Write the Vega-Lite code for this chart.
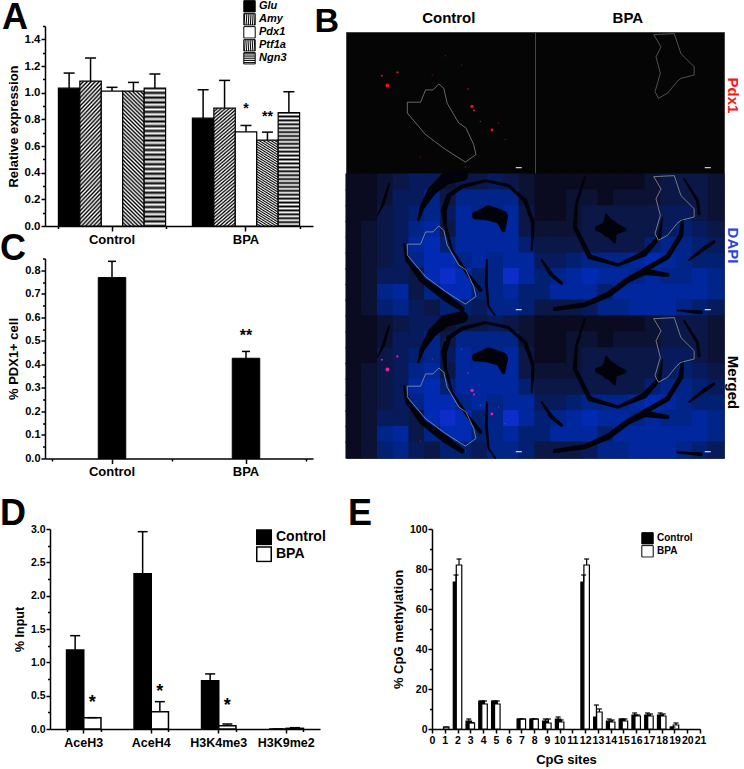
{"$schema":"https://vega.github.io/schema/vega-lite/v6.json","background":"white","padding":{"left":0,"top":0,"right":0,"bottom":0},"autosize":{"type":"pad"},
"params":[
{"name":"stripes","expr":"[{offset:0,color:'#000'},{offset:.0125,color:'#fff'},{offset:.025,color:'#000'},{offset:.0375,color:'#fff'},{offset:.05,color:'#000'},{offset:.0625,color:'#fff'},{offset:.075,color:'#000'},{offset:.0875,color:'#fff'},{offset:.1,color:'#000'},{offset:.1125,color:'#fff'},{offset:.125,color:'#000'},{offset:.1375,color:'#fff'},{offset:.15,color:'#000'},{offset:.1625,color:'#fff'},{offset:.175,color:'#000'},{offset:.1875,color:'#fff'},{offset:.2,color:'#000'},{offset:.2125,color:'#fff'},{offset:.225,color:'#000'},{offset:.2375,color:'#fff'},{offset:.25,color:'#000'},{offset:.2625,color:'#fff'},{offset:.275,color:'#000'},{offset:.2875,color:'#fff'},{offset:.3,color:'#000'},{offset:.3125,color:'#fff'},{offset:.325,color:'#000'},{offset:.3375,color:'#fff'},{offset:.35,color:'#000'},{offset:.3625,color:'#fff'},{offset:.375,color:'#000'},{offset:.3875,color:'#fff'},{offset:.4,color:'#000'},{offset:.4125,color:'#fff'},{offset:.425,color:'#000'},{offset:.4375,color:'#fff'},{offset:.45,color:'#000'},{offset:.4625,color:'#fff'},{offset:.475,color:'#000'},{offset:.4875,color:'#fff'},{offset:.5,color:'#000'},{offset:.5125,color:'#fff'},{offset:.525,color:'#000'},{offset:.5375,color:'#fff'},{offset:.55,color:'#000'},{offset:.5625,color:'#fff'},{offset:.575,color:'#000'},{offset:.5875,color:'#fff'},{offset:.6,color:'#000'},{offset:.6125,color:'#fff'},{offset:.625,color:'#000'},{offset:.6375,color:'#fff'},{offset:.65,color:'#000'},{offset:.6625,color:'#fff'},{offset:.675,color:'#000'},{offset:.6875,color:'#fff'},{offset:.7,color:'#000'},{offset:.7125,color:'#fff'},{offset:.725,color:'#000'},{offset:.7375,color:'#fff'},{offset:.75,color:'#000'},{offset:.7625,color:'#fff'},{offset:.775,color:'#000'},{offset:.7875,color:'#fff'},{offset:.8,color:'#000'},{offset:.8125,color:'#fff'},{offset:.825,color:'#000'},{offset:.8375,color:'#fff'},{offset:.85,color:'#000'},{offset:.8625,color:'#fff'},{offset:.875,color:'#000'},{offset:.8875,color:'#fff'},{offset:.9,color:'#000'},{offset:.9125,color:'#fff'},{offset:.925,color:'#000'},{offset:.9375,color:'#fff'},{offset:.95,color:'#000'},{offset:.9625,color:'#fff'},{offset:.975,color:'#000'},{offset:.9875,color:'#fff'},{offset:1,color:'#000'}]"},
{"name":"amy","expr":"{gradient:'linear',x1:0,y1:0,x2:.177,y2:1.13,stops:stripes}"},
{"name":"ptf","expr":"{gradient:'linear',x1:1,y1:0,x2:.823,y2:1.13,stops:stripes}"},
{"name":"ngn","expr":"{gradient:'linear',x1:0,y1:0,x2:0,y2:1.38,stops:stripes}"},
{"name":"lamy","expr":"{gradient:'linear',x1:0,y1:0,x2:6.67,y2:6.67,stops:stripes}"},
{"name":"lptf","expr":"{gradient:'linear',x1:1,y1:0,x2:-5.67,y2:6.67,stops:stripes}"},
{"name":"lngn","expr":"{gradient:'linear',x1:0,y1:0,x2:0,y2:13.3,stops:stripes}"}
],
"datasets":{
"a":[{"g":"Control","s":"Glu","v":1.034,"e":1.147},{"g":"Control","s":"Amy","v":1.087,"e":1.26},{"g":"Control","s":"Pdx1","v":1.012,"e":1.04},{"g":"Control","s":"Ptf1a","v":1.012,"e":1.077},{"g":"Control","s":"Ngn3","v":1.034,"e":1.14},{"g":"BPA","s":"Glu","v":0.809,"e":1.022},{"g":"BPA","s":"Amy","v":0.884,"e":1.092},{"g":"BPA","s":"Pdx1","v":0.706,"e":0.754},{"g":"BPA","s":"Ptf1a","v":0.644,"e":0.704},{"g":"BPA","s":"Ngn3","v":0.851,"e":1.007}],
"astar":[{"g":"BPA","s":"Pdx1","y":0.904,"t":"*"},{"g":"BPA","s":"Ptf1a","y":0.85,"t":"**"}],
"c":[{"g":"Control","v":0.769,"e":0.838},{"g":"BPA","v":0.426,"e":0.455}],
"cstar":[{"g":"BPA","y":0.54,"t":"**"}],
"d":[{"g":"AceH3","s":"Control","v":1.186,"e":1.4},{"g":"AceH3","s":"BPA","v":0.17,"e":0.17},{"g":"AceH4","s":"Control","v":2.33,"e":2.96},{"g":"AceH4","s":"BPA","v":0.26,"e":0.41},{"g":"H3K4me3","s":"Control","v":0.725,"e":0.826},{"g":"H3K4me3","s":"BPA","v":0.05,"e":0.075},{"g":"H3K9me2","s":"Control","v":0,"e":0},{"g":"H3K9me2","s":"BPA","v":0.01,"e":0.02}],
"dstar":[{"g":"AceH3","s":"BPA","y":0.465,"t":"*"},{"g":"AceH4","s":"BPA","y":0.635,"t":"*"},{"g":"H3K4me3","s":"BPA","y":0.415,"t":"*"}],
"e":[{"x":1,"s":"BPA","v":1,"e":1},{"x":2,"s":"Control","v":73.5,"e":77},{"x":2,"s":"BPA","v":82,"e":85},{"x":3,"s":"Control","v":4,"e":5},{"x":3,"s":"BPA","v":3,"e":3.2},{"x":4,"s":"Control","v":14,"e":14},{"x":4,"s":"BPA","v":12.5,"e":14},{"x":5,"s":"Control","v":14,"e":14},{"x":5,"s":"BPA","v":12.5,"e":14},{"x":7,"s":"Control","v":5,"e":5},{"x":7,"s":"BPA","v":5,"e":5},{"x":8,"s":"Control","v":5,"e":5},{"x":8,"s":"BPA","v":5,"e":5},{"x":9,"s":"Control","v":4,"e":5},{"x":9,"s":"BPA","v":3,"e":5},{"x":10,"s":"Control","v":5,"e":6},{"x":10,"s":"BPA","v":3.5,"e":4.5},{"x":12,"s":"Control","v":73.5,"e":77},{"x":12,"s":"BPA","v":82,"e":85},{"x":13,"s":"Control","v":6,"e":12},{"x":13,"s":"BPA","v":8.5,"e":10},{"x":14,"s":"Control","v":4,"e":5},{"x":14,"s":"BPA","v":3.5,"e":4.5},{"x":15,"s":"Control","v":5,"e":5},{"x":15,"s":"BPA","v":4,"e":5},{"x":16,"s":"Control","v":7,"e":8},{"x":16,"s":"BPA","v":6.5,"e":7},{"x":17,"s":"Control","v":7,"e":8},{"x":17,"s":"BPA","v":6.5,"e":7.5},{"x":18,"s":"Control","v":7,"e":8},{"x":18,"s":"BPA","v":6.5,"e":7.5},{"x":19,"s":"Control","v":1,"e":1},{"x":19,"s":"BPA","v":2,"e":3}],
"cellsC":[{"u":24,"v":24,"b":1},{"u":71,"v":24,"b":1},{"u":119,"v":24,"b":2},{"u":166,"v":24,"b":3},{"u":214,"v":24,"b":4},{"u":261,"v":24,"b":4},{"u":309,"v":24,"b":2},{"u":356,"v":24,"b":3},{"u":404,"v":24,"b":3},{"u":451,"v":24,"b":4},{"u":499,"v":24,"b":3},{"u":546,"v":24,"b":2},
{"u":24,"v":72,"b":1},{"u":71,"v":72,"b":1},{"u":119,"v":72,"b":2},{"u":166,"v":72,"b":4},{"u":214,"v":72,"b":4},{"u":261,"v":72,"b":6},{"u":309,"v":72,"b":3},{"u":356,"v":72,"b":6},{"u":404,"v":72,"b":6},{"u":451,"v":72,"b":6},{"u":499,"v":72,"b":6},{"u":546,"v":72,"b":2},
{"u":24,"v":120,"b":1},{"u":71,"v":120,"b":1},{"u":119,"v":120,"b":3},{"u":166,"v":120,"b":4},{"u":214,"v":120,"b":5},{"u":261,"v":120,"b":6},{"u":309,"v":120,"b":4},{"u":356,"v":120,"b":7},{"u":404,"v":120,"b":6},{"u":451,"v":120,"b":6},{"u":499,"v":120,"b":7},{"u":546,"v":120,"b":3},
{"u":24,"v":167,"b":1},{"u":71,"v":167,"b":2},{"u":119,"v":167,"b":3},{"u":166,"v":167,"b":4},{"u":214,"v":167,"b":6},{"u":261,"v":167,"b":7},{"u":309,"v":167,"b":3},{"u":356,"v":167,"b":7},{"u":404,"v":167,"b":7},{"u":451,"v":167,"b":7},{"u":499,"v":167,"b":7},{"u":546,"v":167,"b":3},
{"u":24,"v":215,"b":1},{"u":71,"v":215,"b":2},{"u":119,"v":215,"b":3},{"u":166,"v":215,"b":4},{"u":214,"v":215,"b":7},{"u":261,"v":215,"b":8},{"u":309,"v":215,"b":5},{"u":356,"v":215,"b":7},{"u":404,"v":215,"b":7},{"u":451,"v":215,"b":7},{"u":499,"v":215,"b":7},{"u":546,"v":215,"b":5},
{"u":24,"v":263,"b":1},{"u":71,"v":263,"b":2},{"u":119,"v":263,"b":3},{"u":166,"v":263,"b":4},{"u":214,"v":263,"b":6},{"u":261,"v":263,"b":8},{"u":309,"v":263,"b":8},{"u":356,"v":263,"b":6},{"u":404,"v":263,"b":7},{"u":451,"v":263,"b":6},{"u":499,"v":263,"b":7},{"u":546,"v":263,"b":7},
{"u":24,"v":310,"b":1},{"u":71,"v":310,"b":2},{"u":119,"v":310,"b":4},{"u":166,"v":310,"b":4},{"u":214,"v":310,"b":3},{"u":261,"v":310,"b":8},{"u":309,"v":310,"b":9},{"u":356,"v":310,"b":8},{"u":404,"v":310,"b":5},{"u":451,"v":310,"b":6},{"u":499,"v":310,"b":9},{"u":546,"v":310,"b":7},
{"u":24,"v":358,"b":1},{"u":71,"v":358,"b":2},{"u":119,"v":358,"b":6},{"u":166,"v":358,"b":7},{"u":214,"v":358,"b":3},{"u":261,"v":358,"b":6},{"u":309,"v":358,"b":8},{"u":356,"v":358,"b":8},{"u":404,"v":358,"b":5},{"u":451,"v":358,"b":6},{"u":499,"v":358,"b":7},{"u":546,"v":358,"b":5},
{"u":24,"v":405,"b":1},{"u":71,"v":405,"b":2},{"u":119,"v":405,"b":5},{"u":166,"v":405,"b":6},{"u":214,"v":405,"b":4},{"u":261,"v":405,"b":3},{"u":309,"v":405,"b":5},{"u":356,"v":405,"b":5},{"u":404,"v":405,"b":4},{"u":451,"v":405,"b":6},{"u":499,"v":405,"b":6},{"u":546,"v":405,"b":5}],
"cellsB":[{"u":24,"v":24,"b":1},{"u":71,"v":24,"b":1},{"u":119,"v":24,"b":1},{"u":166,"v":24,"b":1},{"u":214,"v":24,"b":1},{"u":261,"v":24,"b":1},{"u":309,"v":24,"b":1},{"u":356,"v":24,"b":2},{"u":404,"v":24,"b":3},{"u":451,"v":24,"b":3},{"u":499,"v":24,"b":3},{"u":546,"v":24,"b":2},
{"u":24,"v":72,"b":1},{"u":71,"v":72,"b":1},{"u":119,"v":72,"b":2},{"u":166,"v":72,"b":2},{"u":214,"v":72,"b":1},{"u":261,"v":72,"b":2},{"u":309,"v":72,"b":2},{"u":356,"v":72,"b":2},{"u":404,"v":72,"b":3},{"u":451,"v":72,"b":3},{"u":499,"v":72,"b":3},{"u":546,"v":72,"b":2},
{"u":24,"v":120,"b":1},{"u":71,"v":120,"b":1},{"u":119,"v":120,"b":2},{"u":166,"v":120,"b":3},{"u":214,"v":120,"b":3},{"u":261,"v":120,"b":3},{"u":309,"v":120,"b":3},{"u":356,"v":120,"b":3},{"u":404,"v":120,"b":4},{"u":451,"v":120,"b":4},{"u":499,"v":120,"b":3},{"u":546,"v":120,"b":2},
{"u":24,"v":167,"b":2},{"u":71,"v":167,"b":2},{"u":119,"v":167,"b":2},{"u":166,"v":167,"b":3},{"u":214,"v":167,"b":3},{"u":261,"v":167,"b":3},{"u":309,"v":167,"b":3},{"u":356,"v":167,"b":3},{"u":404,"v":167,"b":4},{"u":451,"v":167,"b":5},{"u":499,"v":167,"b":4},{"u":546,"v":167,"b":3},
{"u":24,"v":215,"b":3},{"u":71,"v":215,"b":3},{"u":119,"v":215,"b":3},{"u":166,"v":215,"b":3},{"u":214,"v":215,"b":3},{"u":261,"v":215,"b":3},{"u":309,"v":215,"b":3},{"u":356,"v":215,"b":5},{"u":404,"v":215,"b":6},{"u":451,"v":215,"b":6},{"u":499,"v":215,"b":5},{"u":546,"v":215,"b":4},
{"u":24,"v":263,"b":4},{"u":71,"v":263,"b":4},{"u":119,"v":263,"b":5},{"u":166,"v":263,"b":6},{"u":214,"v":263,"b":6},{"u":261,"v":263,"b":6},{"u":309,"v":263,"b":7},{"u":356,"v":263,"b":8},{"u":404,"v":263,"b":7},{"u":451,"v":263,"b":6},{"u":499,"v":263,"b":5},{"u":546,"v":263,"b":5},
{"u":24,"v":310,"b":5},{"u":71,"v":310,"b":6},{"u":119,"v":310,"b":7},{"u":166,"v":310,"b":8},{"u":214,"v":310,"b":7},{"u":261,"v":310,"b":7},{"u":309,"v":310,"b":6},{"u":356,"v":310,"b":7},{"u":404,"v":310,"b":6},{"u":451,"v":310,"b":6},{"u":499,"v":310,"b":7},{"u":546,"v":310,"b":6},
{"u":24,"v":358,"b":5},{"u":71,"v":358,"b":7},{"u":119,"v":358,"b":7},{"u":166,"v":358,"b":7},{"u":214,"v":358,"b":5},{"u":261,"v":358,"b":7},{"u":309,"v":358,"b":7},{"u":356,"v":358,"b":7},{"u":404,"v":358,"b":7},{"u":451,"v":358,"b":7},{"u":499,"v":358,"b":7},{"u":546,"v":358,"b":6},
{"u":24,"v":405,"b":3},{"u":71,"v":405,"b":3},{"u":119,"v":405,"b":3},{"u":166,"v":405,"b":4},{"u":214,"v":405,"b":6},{"u":261,"v":405,"b":6},{"u":309,"v":405,"b":7},{"u":356,"v":405,"b":7},{"u":404,"v":405,"b":7},{"u":451,"v":405,"b":6},{"u":499,"v":405,"b":5},{"u":546,"v":405,"b":4}],
"darkC":[{"id":1,"k":0,"u":350,"v":3,"w":12},{"id":1,"k":1,"u":300,"v":15,"w":12},{"id":1,"k":2,"u":260,"v":50,"w":9},{"id":1,"k":3,"u":230,"v":100,"w":5},{"id":1,"k":4,"u":218,"v":140,"w":2},
{"id":2,"k":0,"u":310,"v":65,"w":5},{"id":2,"k":1,"u":295,"v":110,"w":6},{"id":2,"k":2,"u":300,"v":160,"w":3},{"id":2,"k":3,"u":320,"v":230,"w":2},{"id":2,"k":4,"u":365,"v":300,"w":3},{"id":2,"k":5,"u":405,"v":350,"w":4},
{"id":3,"k":0,"u":310,"v":65,"w":4},{"id":3,"k":1,"u":350,"v":38,"w":4},{"id":3,"k":2,"u":420,"v":20,"w":3},{"id":3,"k":3,"u":490,"v":35,"w":3},{"id":3,"k":4,"u":540,"v":80,"w":4},{"id":3,"k":5,"u":565,"v":150,"w":4},{"id":3,"k":6,"u":560,"v":230,"w":2},
{"id":4,"k":0,"u":175,"v":212,"w":2},{"id":4,"k":1,"u":185,"v":260,"w":4},{"id":4,"k":2,"u":230,"v":320,"w":6},{"id":4,"k":3,"u":300,"v":372,"w":8},{"id":4,"k":4,"u":350,"v":408,"w":5},
{"id":5,"k":0,"u":392,"v":125,"w":8},{"id":5,"k":1,"u":430,"v":118,"w":15},{"id":5,"k":2,"u":468,"v":130,"w":14},{"id":5,"k":3,"u":475,"v":170,"w":4},
{"id":6,"k":0,"u":425,"v":260,"w":2},{"id":6,"k":1,"u":423,"v":330,"w":3},{"id":6,"k":2,"u":430,"v":400,"w":2},{"id":6,"k":3,"u":450,"v":429,"w":2},
{"id":7,"k":0,"u":130,"v":30,"w":2},{"id":7,"k":1,"u":112,"v":90,"w":3},{"id":7,"k":2,"u":95,"v":125,"w":1}],
"darkB":[{"id":1,"k":0,"u":150,"v":10,"w":2},{"id":1,"k":1,"u":125,"v":90,"w":3},{"id":1,"k":2,"u":120,"v":160,"w":4},{"id":1,"k":3,"u":165,"v":250,"w":5},{"id":1,"k":4,"u":250,"v":275,"w":3},{"id":1,"k":5,"u":330,"v":240,"w":6},{"id":1,"k":6,"u":375,"v":190,"w":4},{"id":1,"k":7,"u":385,"v":130,"w":1},
{"id":2,"k":0,"u":60,"v":408,"w":4},{"id":2,"k":1,"u":150,"v":395,"w":5},{"id":2,"k":2,"u":220,"v":365,"w":6},{"id":2,"k":3,"u":280,"v":320,"w":6},{"id":2,"k":4,"u":330,"v":295,"w":7},{"id":2,"k":5,"u":400,"v":305,"w":4},
{"id":3,"k":0,"u":330,"v":290,"w":5},{"id":3,"k":1,"u":400,"v":250,"w":5},{"id":3,"k":2,"u":440,"v":185,"w":5},{"id":3,"k":3,"u":445,"v":140,"w":3},
{"id":4,"k":0,"u":495,"v":120,"w":3},{"id":4,"k":1,"u":490,"v":80,"w":3},{"id":4,"k":2,"u":450,"v":15,"w":2},
{"id":5,"k":0,"u":190,"v":165,"w":6},{"id":5,"k":1,"u":225,"v":165,"w":18},{"id":5,"k":2,"u":270,"v":168,"w":4},
{"id":6,"k":0,"u":215,"v":125,"w":3},{"id":6,"k":1,"u":225,"v":165,"w":16},{"id":6,"k":2,"u":240,"v":205,"w":3},
{"id":7,"k":0,"u":20,"v":260,"w":2},{"id":7,"k":1,"u":50,"v":305,"w":4},{"id":7,"k":2,"u":80,"v":330,"w":3},
{"id":8,"k":0,"u":465,"v":260,"w":2},{"id":8,"k":1,"u":510,"v":225,"w":4},{"id":8,"k":2,"u":540,"v":205,"w":3},
{"id":9,"k":0,"u":430,"v":412,"w":2},{"id":9,"k":1,"u":500,"v":418,"w":4}],
"outC":[{"k":0,"u":240,"v":175},{"k":1,"u":262,"v":175},{"k":2,"u":280,"v":157},{"k":3,"u":295,"v":170},{"k":4,"u":305,"v":215},{"k":5,"u":340,"v":275},{"k":6,"u":362,"v":290},{"k":7,"u":385,"v":340},{"k":8,"u":392,"v":370},{"k":9,"u":360,"v":393},{"k":10,"u":300,"v":355},{"k":11,"u":240,"v":310},{"k":12,"u":185,"v":245},{"k":13,"u":185,"v":212},{"k":14,"u":225,"v":212},{"k":15,"u":240,"v":175}],
"outB":[{"k":0,"u":358,"v":8},{"k":1,"u":420,"v":5},{"k":2,"u":440,"v":65},{"k":3,"u":480,"v":105},{"k":4,"u":480,"v":130},{"k":5,"u":440,"v":140},{"k":6,"u":428,"v":150},{"k":7,"u":400,"v":185},{"k":8,"u":372,"v":200},{"k":9,"u":362,"v":180},{"k":10,"u":378,"v":125},{"k":11,"u":365,"v":75},{"k":12,"u":380,"v":45},{"k":13,"u":358,"v":8}],
"redC":[{"u":125,"v":162,"r":16},{"u":108,"v":132,"r":4},{"u":155,"v":122,"r":5},{"u":380,"v":225,"r":12},{"u":386,"v":237,"r":4},{"u":440,"v":296,"r":8},{"u":405,"v":270,"r":2},{"u":368,"v":172,"r":2},{"u":300,"v":72,"r":1},{"u":348,"v":100,"r":1},{"u":460,"v":275,"r":1},{"u":480,"v":325,"r":1},{"u":225,"v":378,"r":1},{"u":360,"v":408,"r":1},{"u":260,"v":130,"r":1}],
"bar":[{"u":521,"v":410}],
"letterB":[{"u":-95,"v":0,"t":"B"}],
"headC":[{"u":310,"v":-28,"t":"Control"}],
"headB":[{"u":280,"v":-28,"t":"BPA"}],
"none":[{"t":""}]
},
"vconcat":[
{"hconcat":[
{"vconcat":[
{"width":268,"height":200,"title":{"text":"A","fontSize":36,"fontWeight":"bold","anchor":"start","frame":"group","baseline":"alphabetic","offset":0,"dx":-43,"dy":65},
"resolve":{"axis":{"x":"independent","y":"independent"}},
"layer":[
{"data":{"name":"a"},"mark":{"type":"bar","stroke":"#000","strokeWidth":1.2},"encoding":{
"x":{"field":"g","type":"nominal","scale":{"domain":["Control","BPA"],"paddingInner":0.2,"paddingOuter":0.1},"axis":{"title":null,"labelAngle":0,"labelFontSize":13,"tickSize":5,"labelPadding":2}},
"xOffset":{"field":"s","type":"nominal","scale":{"domain":["Glu","Amy","Pdx1","Ptf1a","Ngn3"]}},
"y":{"field":"v","type":"quantitative","stack":null,"scale":{"domain":[0,1.5],"nice":false},"axis":{"title":"Relative expression","titleFontSize":13,"values":[0,0.2,0.4,0.6,0.8,1,1.2,1.4],"format":".1f","labelFontSize":11.5,"tickSize":4,"labelPadding":1}},
"fill":{"field":"s","type":"nominal","sort":["Glu","Amy","Pdx1","Ptf1a","Ngn3"],"scale":{"domain":["Glu","Amy","Pdx1","Ptf1a","Ngn3"],"range":["#000",{"expr":"amy"},"#fff",{"expr":"ptf"},{"expr":"ngn"}]},
"legend":{"title":null,"orient":"none","legendX":198,"legendY":-26,"symbolType":"square","symbolSize":130,"symbolStrokeColor":"#000","symbolStrokeWidth":1,"labelFontSize":11,"labelFontWeight":"bold","labelFontStyle":"italic","labelColor":"#000","rowPadding":0,"clipHeight":12.7,"labelOffset":3,"encode":{"symbols":{"update":{"stroke":{"value":"#000"},"strokeWidth":{"value":1},"fill":{"signal":"datum.value==='Amy'?lamy:datum.value==='Ptf1a'?lptf:datum.value==='Ngn3'?lngn:datum.value==='Glu'?'#000':'#fff'"}}}}}}}},
{"data":{"name":"a"},"mark":{"type":"rule","stroke":"#000","strokeWidth":1.5},"encoding":{
"x":{"field":"g","type":"nominal","scale":{"domain":["Control","BPA"],"paddingInner":0.2,"paddingOuter":0.1},"axis":{"orient":"bottom","title":null,"labels":false,"domain":false,"tickSize":2.5,"tickBand":"extent"}},
"xOffset":{"field":"s","type":"nominal","scale":{"domain":["Glu","Amy","Pdx1","Ptf1a","Ngn3"]}},
"y":{"field":"v","type":"quantitative","stack":null,"axis":{"orient":"left","title":null,"labels":false,"domain":false,"tickSize":2.5,"values":[0.1,0.3,0.5,0.7,0.9,1.1,1.3,1.5]}},"y2":{"field":"e"}}},
{"data":{"name":"a"},"mark":{"type":"tick","orient":"horizontal","size":11,"thickness":1.5,"color":"#000","opacity":1},"encoding":{
"x":{"field":"g","type":"nominal","axis":null},"xOffset":{"field":"s","type":"nominal","scale":{"domain":["Glu","Amy","Pdx1","Ptf1a","Ngn3"]}},
"y":{"field":"e","type":"quantitative","axis":null}}},
{"data":{"name":"astar"},"mark":{"type":"text","fontSize":14,"fontWeight":"bold","dy":4,"baseline":"middle","color":"#000"},"encoding":{
"x":{"field":"g","type":"nominal","axis":null},"xOffset":{"field":"s","type":"nominal","scale":{"domain":["Glu","Amy","Pdx1","Ptf1a","Ngn3"]}},
"y":{"field":"y","type":"quantitative","axis":null},"text":{"field":"t"}}}
]},
{"width":268,"height":200,"title":{"text":"C","fontSize":36,"fontWeight":"bold","anchor":"start","frame":"group","baseline":"alphabetic","offset":0,"dx":-45,"dy":38},
"resolve":{"axis":{"x":"independent","y":"independent"}},
"layer":[
{"data":{"name":"c"},"mark":{"type":"bar","size":27.5,"color":"#000","stroke":"#000"},"encoding":{
"x":{"field":"g","type":"nominal","scale":{"domain":["Control","BPA"]},"axis":{"title":null,"labelAngle":0,"labelFontSize":13,"tickSize":5,"labelPadding":2}},
"y":{"field":"v","type":"quantitative","scale":{"domain":[0,0.85],"nice":false},"axis":{"title":"% PDX1+ cell","titleFontSize":13,"values":[0,0.1,0.2,0.3,0.4,0.5,0.6,0.7,0.8],"format":".1f","labelFontSize":11,"tickSize":4,"labelPadding":1}}}},
{"data":{"name":"c"},"mark":{"type":"rule","stroke":"#000","strokeWidth":1.5},"encoding":{
"x":{"field":"g","type":"nominal","scale":{"domain":["Control","BPA"]},"axis":{"orient":"bottom","title":null,"labels":false,"domain":false,"tickSize":2.5,"tickBand":"extent"}},
"y":{"field":"v","type":"quantitative","axis":{"orient":"left","title":null,"labels":false,"domain":false,"tickSize":2.5,"values":[0.05,0.15,0.25,0.35,0.45,0.55,0.65,0.75,0.85]}},"y2":{"field":"e"}}},
{"data":{"name":"c"},"mark":{"type":"tick","orient":"horizontal","size":8,"thickness":1.5,"color":"#000","opacity":1},"encoding":{
"x":{"field":"g","type":"nominal","axis":null},"y":{"field":"e","type":"quantitative","axis":null}}},
{"data":{"name":"cstar"},"mark":{"type":"text","fontSize":16,"fontWeight":"bold","dy":4.5,"baseline":"middle","color":"#000"},"encoding":{
"x":{"field":"g","type":"nominal","axis":null},"y":{"field":"y","type":"quantitative","axis":null},"text":{"field":"t"}}}
]}
],"spacing":32.5,"bounds":"flush","resolve":{"scale":{"fill":"independent","xOffset":"independent","color":"independent"}}},
{"concat":[
{"width":189,"height":5.3,"data":{"name":"none"},"mark":{"type":"text","opacity":0},"encoding":{"text":{"field":"t"}}},
{"width":189,"height":5.3,"data":{"name":"none"},"mark":{"type":"text","opacity":0},"encoding":{"text":{"field":"t"}}},
{"width":189,"height":142,"view":{"fill":"#050505","stroke":"#444"},
"encoding":{"x":{"field":"u","type":"quantitative","scale":{"domain":[0,570],"nice":false,"zero":false},"axis":null},"y":{"field":"v","type":"quantitative","scale":{"domain":[0,429],"reverse":true,"nice":false,"zero":false},"axis":null}},
"layer":[
{"data":{"name":"outC"},"mark":{"type":"line","color":"#8e9488","strokeWidth":0.7},"encoding":{"order":{"field":"k"}}},
{"data":{"name":"redC"},"mark":{"type":"circle","color":"#e8101c","opacity":1},"encoding":{"size":{"field":"r","type":"quantitative","scale":null}}},
{"data":{"name":"bar"},"mark":{"type":"tick","orient":"horizontal","size":6,"thickness":1,"color":"#fff","opacity":1}},
{"data":{"name":"headC"},"mark":{"type":"text","fontSize":15,"fontWeight":"bold","baseline":"alphabetic","color":"#000"},"encoding":{"text":{"field":"t"}}},
{"data":{"name":"letterB"},"mark":{"type":"text","fontSize":34,"fontWeight":"bold","align":"left","baseline":"alphabetic","color":"#000"},"encoding":{"text":{"field":"t"}}}
]},
{"width":189,"height":142,"view":{"fill":"#050505","stroke":"#444"},
"encoding":{"x":{"field":"u","type":"quantitative","scale":{"domain":[0,570],"nice":false,"zero":false},"axis":null},"y":{"field":"v","type":"quantitative","scale":{"domain":[0,429],"reverse":true,"nice":false,"zero":false},"axis":{"orient":"right","title":"Pdx1","titleColor":"#f01818","titleFontSize":15,"titleFontWeight":"bold","titleAngle":90,"titlePadding":0,"titleY":63,"labels":false,"ticks":false,"domain":false}}},
"layer":[
{"data":{"name":"outB"},"mark":{"type":"line","color":"#6e746a","strokeWidth":0.7},"encoding":{"order":{"field":"k"}}},
{"data":{"name":"bar"},"mark":{"type":"tick","orient":"horizontal","size":6,"thickness":1,"color":"#fff","opacity":1}},
{"data":{"name":"headB"},"mark":{"type":"text","fontSize":15,"fontWeight":"bold","baseline":"alphabetic","color":"#000"},"encoding":{"text":{"field":"t"}}}
]},
{"width":189,"height":142,"view":{"stroke":"#444"},
"encoding":{"x":{"field":"u","type":"quantitative","scale":{"domain":[0,570],"nice":false,"zero":false},"axis":null},"y":{"field":"v","type":"quantitative","scale":{"domain":[0,429],"reverse":true,"nice":false,"zero":false},"axis":null}},
"layer":[
{"data":{"name":"cellsC"},"mark":{"type":"rect","width":17,"height":17},"encoding":{"color":{"field":"b","type":"quantitative","scale":{"domain":[0,10],"range":["#00000c","#1c2ee0"]},"legend":null}}},
{"data":{"name":"darkC"},"mark":{"type":"trail","color":"#02020a"},"encoding":{"detail":{"field":"id"},"order":{"field":"k"},"size":{"field":"w","type":"quantitative","scale":null}}},
{"data":{"name":"outC"},"mark":{"type":"line","color":"#a0a6a0","strokeWidth":0.7},"encoding":{"order":{"field":"k"}}},
{"data":{"name":"bar"},"mark":{"type":"tick","orient":"horizontal","size":6,"thickness":1,"color":"#fff","opacity":1}}
]},
{"width":189,"height":142,"view":{"stroke":"#444"},
"encoding":{"x":{"field":"u","type":"quantitative","scale":{"domain":[0,570],"nice":false,"zero":false},"axis":null},"y":{"field":"v","type":"quantitative","scale":{"domain":[0,429],"reverse":true,"nice":false,"zero":false},"axis":{"orient":"right","title":"DAPI","titleColor":"#2a45e0","titleFontSize":15,"titleFontWeight":"bold","titleAngle":90,"titlePadding":0,"titleY":71,"labels":false,"ticks":false,"domain":false}}},
"layer":[
{"data":{"name":"cellsB"},"mark":{"type":"rect","width":17,"height":17},"encoding":{"color":{"field":"b","type":"quantitative","scale":{"domain":[0,10],"range":["#00000c","#1c2ee0"]},"legend":null}}},
{"data":{"name":"darkB"},"mark":{"type":"trail","color":"#02020a"},"encoding":{"detail":{"field":"id"},"order":{"field":"k"},"size":{"field":"w","type":"quantitative","scale":null}}},
{"data":{"name":"outB"},"mark":{"type":"line","color":"#a0a6a0","strokeWidth":0.7},"encoding":{"order":{"field":"k"}}},
{"data":{"name":"bar"},"mark":{"type":"tick","orient":"horizontal","size":6,"thickness":1,"color":"#fff","opacity":1}}
]},
{"width":189,"height":142,"view":{"stroke":"#444"},
"encoding":{"x":{"field":"u","type":"quantitative","scale":{"domain":[0,570],"nice":false,"zero":false},"axis":null},"y":{"field":"v","type":"quantitative","scale":{"domain":[0,429],"reverse":true,"nice":false,"zero":false},"axis":null}},
"layer":[
{"data":{"name":"cellsC"},"mark":{"type":"rect","width":17,"height":17},"encoding":{"color":{"field":"b","type":"quantitative","scale":{"domain":[0,10],"range":["#00000c","#1c2ee0"]},"legend":null}}},
{"data":{"name":"darkC"},"mark":{"type":"trail","color":"#02020a"},"encoding":{"detail":{"field":"id"},"order":{"field":"k"},"size":{"field":"w","type":"quantitative","scale":null}}},
{"data":{"name":"outC"},"mark":{"type":"line","color":"#a0a6a0","strokeWidth":0.7},"encoding":{"order":{"field":"k"}}},
{"data":{"name":"redC"},"mark":{"type":"circle","color":"#e8209a","opacity":1},"encoding":{"size":{"field":"r","type":"quantitative","scale":null}}},
{"data":{"name":"bar"},"mark":{"type":"tick","orient":"horizontal","size":6,"thickness":1,"color":"#fff","opacity":1}}
]},
{"width":189,"height":142,"view":{"stroke":"#444"},
"encoding":{"x":{"field":"u","type":"quantitative","scale":{"domain":[0,570],"nice":false,"zero":false},"axis":null},"y":{"field":"v","type":"quantitative","scale":{"domain":[0,429],"reverse":true,"nice":false,"zero":false},"axis":{"orient":"right","title":"Merged","titleColor":"#000","titleFontSize":15,"titleFontWeight":"bold","titleAngle":90,"titlePadding":0,"titleY":66,"labels":false,"ticks":false,"domain":false}}},
"layer":[
{"data":{"name":"cellsB"},"mark":{"type":"rect","width":17,"height":17},"encoding":{"color":{"field":"b","type":"quantitative","scale":{"domain":[0,10],"range":["#00000c","#1c2ee0"]},"legend":null}}},
{"data":{"name":"darkB"},"mark":{"type":"trail","color":"#02020a"},"encoding":{"detail":{"field":"id"},"order":{"field":"k"},"size":{"field":"w","type":"quantitative","scale":null}}},
{"data":{"name":"outB"},"mark":{"type":"line","color":"#a0a6a0","strokeWidth":0.7},"encoding":{"order":{"field":"k"}}},
{"data":{"name":"bar"},"mark":{"type":"tick","orient":"horizontal","size":6,"thickness":1,"color":"#fff","opacity":1}}
]}
],"columns":2,"spacing":0,"bounds":"flush","resolve":{"scale":{"color":"independent"}}}
],"spacing":1,"resolve":{"scale":{"fill":"independent","xOffset":"independent","color":"independent"}}},
{"hconcat":[
{"width":5,"height":1,"data":{"name":"none"},"mark":{"type":"text","opacity":0},"encoding":{"text":{"field":"t"}}},
{"hconcat":[
{"width":270,"height":200,"title":{"text":"D","fontSize":36,"fontWeight":"bold","anchor":"start","frame":"group","baseline":"alphabetic","offset":0,"dx":-50,"dy":37},
"resolve":{"axis":{"x":"independent","y":"independent"}},
"layer":[
{"data":{"name":"d"},"mark":{"type":"bar","stroke":"#000","strokeWidth":1.5},"encoding":{
"x":{"field":"g","type":"nominal","scale":{"domain":["AceH3","AceH4","H3K4me3","H3K9me2"],"paddingInner":0.49,"paddingOuter":0.245},"axis":{"title":null,"labelAngle":0,"labelFontSize":12.5,"tickSize":4,"labelPadding":3}},
"xOffset":{"field":"s","type":"nominal","scale":{"domain":["Control","BPA"]}},
"y":{"field":"v","type":"quantitative","stack":null,"scale":{"domain":[0,3],"nice":false},"axis":{"title":"% Input","titleFontSize":12.5,"values":[0,0.5,1,1.5,2,2.5,3],"format":".1f","labelFontSize":10.5,"tickSize":4,"labelPadding":1}},
"fill":{"field":"s","type":"nominal","sort":["Control","BPA"],"scale":{"domain":["Control","BPA"],"range":["#000","#fff"]},"legend":{"title":null,"orient":"none","legendX":206,"legendY":0,"symbolType":"square","symbolSize":210,"symbolStrokeColor":"#000","symbolStrokeWidth":1.5,"labelFontSize":14,"labelFontWeight":"bold","labelColor":"#000","rowPadding":0,"clipHeight":16.6,"labelOffset":4}}}},
{"data":{"name":"d"},"mark":{"type":"rule","stroke":"#000","strokeWidth":1.5},"encoding":{
"x":{"field":"g","type":"nominal","scale":{"domain":["AceH3","AceH4","H3K4me3","H3K9me2"],"paddingInner":0.49,"paddingOuter":0.245},"axis":{"orient":"bottom","title":null,"labels":false,"domain":false,"tickSize":2.5,"tickBand":"extent"}},
"xOffset":{"field":"s","type":"nominal","scale":{"domain":["Control","BPA"]}},
"y":{"field":"v","type":"quantitative","stack":null,"axis":{"orient":"left","title":null,"labels":false,"domain":false,"tickSize":2.5,"values":[0.25,0.75,1.25,1.75,2.25,2.75]}},"y2":{"field":"e"}}},
{"data":{"name":"d"},"mark":{"type":"tick","orient":"horizontal","size":10,"thickness":1.5,"color":"#000","opacity":1},"encoding":{
"x":{"field":"g","type":"nominal","axis":null},"xOffset":{"field":"s","type":"nominal","scale":{"domain":["Control","BPA"]}},
"y":{"field":"e","type":"quantitative","axis":null}}},
{"data":{"name":"dstar"},"mark":{"type":"text","fontSize":18,"fontWeight":"bold","dy":5,"baseline":"middle","color":"#000"},"encoding":{
"x":{"field":"g","type":"nominal","axis":null},"xOffset":{"field":"s","type":"nominal","scale":{"domain":["Control","BPA"]}},
"y":{"field":"y","type":"quantitative","axis":null},"text":{"field":"t"}}}
]},
{"width":268,"height":200,"title":{"text":"E","fontSize":36,"fontWeight":"bold","anchor":"start","frame":"group","baseline":"alphabetic","offset":0,"dx":-84,"dy":37},
"resolve":{"axis":{"y":"independent"}},
"layer":[
{"data":{"name":"e"},"mark":{"type":"bar","size":5.5,"stroke":"#000","strokeWidth":1.2},"encoding":{
"x":{"field":"x","type":"ordinal","sort":null,"scale":{"type":"point","padding":0,"domain":[0,1,2,3,4,5,6,7,8,9,10,11,12,13,14,15,16,17,18,19,20,21]},"axis":{"title":"CpG sites","titleFontSize":13,"titlePadding":8,"labelAngle":0,"labelFontSize":10.5,"labelOverlap":false,"tickSize":4,"labelPadding":2}},
"xOffset":{"field":"s","type":"nominal","scale":{"domain":["Control","BPA"],"range":[-3,3]}},
"y":{"field":"v","type":"quantitative","stack":null,"scale":{"domain":[0,100],"nice":false},"axis":{"title":"% CpG methylation","titleFontSize":13,"values":[0,20,40,60,80,100],"labelFontSize":10.5,"tickSize":4,"labelPadding":1}},
"fill":{"field":"s","type":"nominal","sort":["Control","BPA"],"scale":{"domain":["Control","BPA"],"range":["#000","#fff"]},"legend":{"title":null,"orient":"none","legendX":209,"legendY":3,"symbolType":"square","symbolSize":130,"symbolStrokeColor":"#000","symbolStrokeWidth":1,"labelFontSize":10,"labelFontWeight":"bold","labelColor":"#000","rowPadding":0,"clipHeight":12.7,"labelOffset":3}}}},
{"data":{"name":"e"},"mark":{"type":"rule","stroke":"#000","strokeWidth":1.2},"encoding":{
"x":{"field":"x","type":"ordinal","sort":null},
"xOffset":{"field":"s","type":"nominal","scale":{"domain":["Control","BPA"],"range":[-3,3]}},
"y":{"field":"v","type":"quantitative","stack":null,"axis":{"orient":"left","title":null,"labels":false,"domain":false,"tickSize":2.5,"values":[10,30,50,70,90]}},"y2":{"field":"e"}}},
{"data":{"name":"e"},"mark":{"type":"tick","orient":"horizontal","size":5,"thickness":1.2,"color":"#000","opacity":1},"encoding":{
"x":{"field":"x","type":"ordinal","sort":null},
"xOffset":{"field":"s","type":"nominal","scale":{"domain":["Control","BPA"],"range":[-3,3]}},
"y":{"field":"e","type":"quantitative","axis":null}}}
]}
],"spacing":112,"bounds":"flush","resolve":{"scale":{"fill":"independent","xOffset":"independent","color":"independent"}}}
],"spacing":0,"bounds":"flush","resolve":{"scale":{"fill":"independent","xOffset":"independent","color":"independent"}}}
],"spacing":17,"resolve":{"scale":{"fill":"independent","xOffset":"independent","color":"independent"}},
"config":{"font":"Liberation Sans","view":{"stroke":null},"axis":{"grid":false,"domainColor":"#000","domainWidth":1.5,"tickColor":"#000","tickWidth":1.5,"labelColor":"#000","labelFontWeight":"bold","titleFontWeight":"bold","titleColor":"#000"},"title":{"color":"#000"}}}
